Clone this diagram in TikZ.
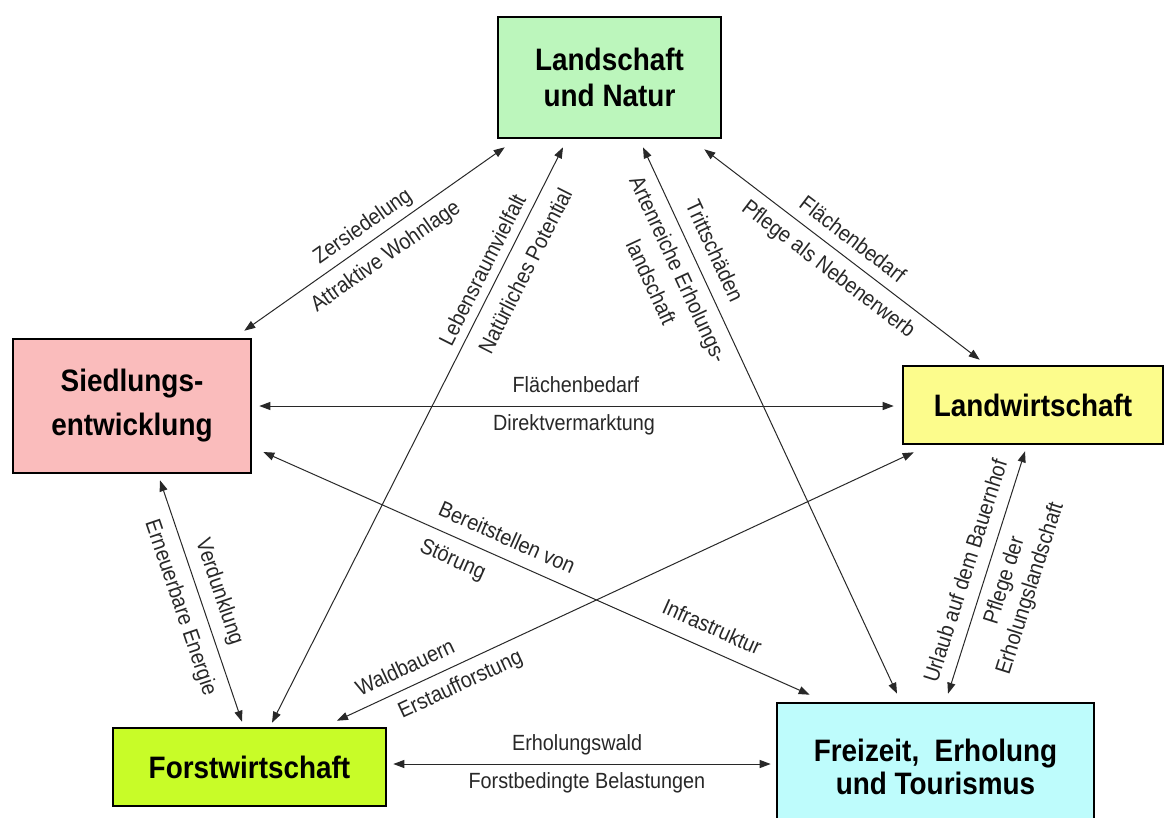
\documentclass[tikz,border=0pt]{standalone}
\usepackage{fontspec}
\setmainfont{Liberation Sans}[FakeStretch=0.9]
\usetikzlibrary{arrows.meta,calc}
\definecolor{cLN}{RGB}{188,246,188}
\definecolor{cSI}{RGB}{250,188,188}
\definecolor{cLW}{RGB}{252,252,140}
\definecolor{cFO}{RGB}{200,252,40}
\definecolor{cFR}{RGB}{190,252,252}
\definecolor{cLine}{RGB}{40,40,40}
\begin{document}
\begin{tikzpicture}[x=1pt,y=-1pt,
  box/.style={draw=black, line width=2.6pt, inner sep=0pt, align=center,
    font=\fontsize{31}{36}\selectfont\bfseries},
  conn/.style={draw=cLine, line width=1pt,
    {Triangle[length=11pt,width=8pt]}-{Triangle[length=11pt,width=8pt]}},
  lab/.style={sloped, inner sep=0pt, font=\fontsize{22}{24}\selectfont,
    text=cLine, align=center}]
\clip (0,0) rectangle (1166,817);
\fill[white] (0,0) rectangle (1166,817);

\node[box, fill=cLN, minimum width=223pt, minimum height=121pt] (ln) at (609.5,77.5) {Landschaft\\und Natur};
\node[box, fill=cSI, minimum width=238pt, minimum height=134pt,
  font=\fontsize{31}{44}\selectfont\bfseries] (sied) at (132,406) {Siedlungs-\\entwicklung};
\node[box, fill=cLW, minimum width=260pt, minimum height=78pt] (lw) at (1033,405) {Landwirtschaft};
\node[box, fill=cFO, minimum width=273pt, minimum height=78pt] (forst) at (249.5,767) {Forstwirtschaft};
\node[box, fill=cFR, minimum width=317pt, minimum height=127pt,
  font=\fontsize{31}{33}\selectfont\bfseries] (frei) at (935.5,766.5) {Freizeit,\ \ Erholung\\und Tourismus};

% Siedlung - Landschaft
\draw[conn] ($(sied.north east)+(-8,-7)$) -- ($(ln.south west)+(8,8)$)
  node[lab, pos=0.4925, yshift=16.4pt] {Zersiedelung}
  node[lab, pos=0.497, yshift=-21.4pt] {Attraktive Wohnlage};
% Forst - Landschaft
\draw[conn] ($(forst.north)+(22.5,-4)$) -- ($(ln.south)+(-46.5,8)$)
  node[lab, pos=0.774, yshift=17pt] {Lebensraumvielfalt}
  node[lab, pos=0.8025, yshift=-21.8pt] {Natürliches Potential};
% Landschaft - Freizeit
\draw[conn] ($(ln.south)+(33.5,8)$) -- ($(frei.north)+(-38.5,-8)$)
  node[lab, pos=0.2088, yshift=-34.2pt, font=\fontsize{22}{30}\selectfont] {Artenreiche Erholungs-\\landschaft}
  node[lab, pos=0.206, yshift=21.7pt] {Trittschäden};
% Landschaft - Landwirtschaft
\draw[conn] ($(ln.south east)+(-18,10)$) -- ($(lw.north west)+(78,-5)$)
  node[lab, pos=0.498, yshift=19pt] {Flächenbedarf}
  node[lab, pos=0.495, yshift=-20.8pt] {Pflege als Nebenerwerb};
% Siedlung - Landwirtschaft
\draw[conn] ($(sied.east)+(7,0)$) -- ($(lw.west)+(-8,1)$)
  node[lab, pos=0.499, yshift=21pt] {Flächenbedarf}
  node[lab, pos=0.496, yshift=-19pt] {Direktvermarktung};
% Siedlung - Freizeit
\draw[conn] ($(sied.east)+(11,46)$) -- ($(frei.north west)+(34,-7)$)
  node[lab, pos=0.4308, yshift=20.9pt] {Bereitstellen von}
  node[lab, pos=0.805, yshift=22.4pt] {Infrastruktur}
  node[lab, pos=0.3627, yshift=-22.4pt] {Störung};
% Siedlung - Forst
\draw[conn] ($(sied.south)+(28,6)$) -- ($(forst.north)+(-7.5,-5)$)
  node[lab, pos=0.489, yshift=19.9pt] {Verdunklung}
  node[lab, pos=0.4998, yshift=-22.1pt] {Erneuerbare Energie};
% Forst - Landwirtschaft
\draw[conn] ($(forst.north)+(87.5,-6)$) -- ($(lw.south west)+(12,7)$)
  node[lab, pos=0.1323, yshift=20pt] {Waldbauern}
  node[lab, pos=0.1998, yshift=-20pt] {Erstaufforstung};
% Freizeit - Landwirtschaft
\draw[conn] ($(frei.north)+(12.5,-8)$) -- ($(lw.south)+(-8,6)$)
  node[lab, pos=0.4805, yshift=21pt] {Urlaub auf dem Bauernhof}
  node[lab, pos=0.492, yshift=-33.6pt, font=\fontsize{22}{27}\selectfont] {Pflege der\\Erholungslandschaft};
% Forst - Freizeit
\draw[conn] ($(forst.east)+(6,-3)$) -- ($(frei.west)+(-5,-2.5)$)
  node[lab, pos=0.487, yshift=19pt] {Erholungswald}
  node[lab, pos=0.513, yshift=-19pt] {Forstbedingte Belastungen};
\end{tikzpicture}
\end{document}
